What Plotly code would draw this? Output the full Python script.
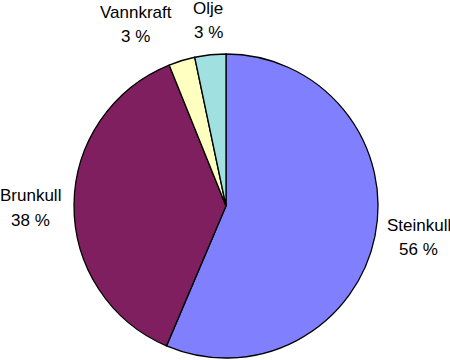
import plotly.graph_objects as go

# Data
labels = ["Steinkull", "Brunkull", "Vannkraft", "Olje"]
values = [56.4, 37.5, 2.8, 3.3]
percent_text = ["56 %", "38 %", "3 %", "3 %"]
colors = ["#8080FF", "#801F5F", "#FFFFC0", "#A0E0E0"]

W, H = 450, 360
cx, cy, r = 226, 206, 152

fig = go.Figure(go.Pie(
    labels=labels,
    values=values,
    sort=False,
    direction="clockwise",
    rotation=0,
    marker=dict(colors=colors, line=dict(color="black", width=1.3)),
    textinfo="none",
    hoverinfo="label+percent",
    showlegend=False,
    domain=dict(x=[(cx - r) / W, (cx + r) / W], y=[(H - cy - r) / H, (H - cy + r) / H]),
))

# Label anchor positions in pixels (center x, first-line baseline y)
label_pos = [(418.5, 231), (30.5, 202), (135.5, 19), (208, 14)]
line_gap = 24
font = dict(family="Liberation Sans, Arial, sans-serif", size=17, color="black")

annotations = []
for lab, pct, (px, py) in zip(labels, percent_text, label_pos):
    for i, t in enumerate([lab, pct]):
        yc = py + i * line_gap - 6
        annotations.append(dict(
            text=t, x=px / W, y=1 - yc / H, xref="paper", yref="paper",
            xanchor="center", yanchor="middle", showarrow=False, font=font,
        ))

fig.update_layout(
    width=W, height=H,
    margin=dict(l=0, r=0, t=0, b=0),
    paper_bgcolor="white", plot_bgcolor="white",
    annotations=annotations,
)

fig.write_html(
    "out.html",
    config={"displayModeBar": False},
    post_script="document.body.style.margin='0px';document.body.style.overflow='hidden';",
)
